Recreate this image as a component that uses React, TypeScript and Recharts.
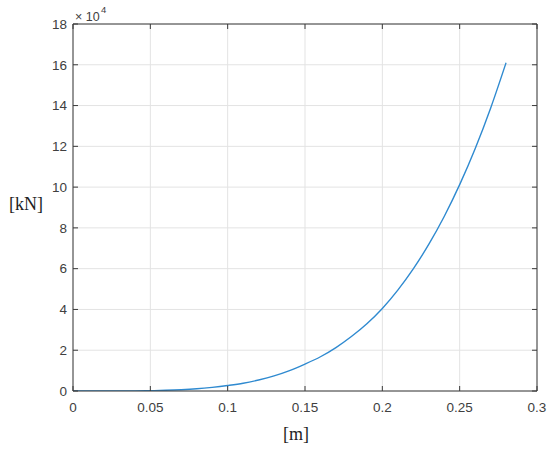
import React from "react";
import { LineChart, Line, XAxis, YAxis, CartesianGrid } from "recharts";

const displacement = [0, 0.01, 0.02, 0.03, 0.04, 0.05, 0.06, 0.07, 0.08, 0.09, 0.1, 0.11, 0.12, 0.13, 0.14, 0.15, 0.16, 0.17, 0.18, 0.19, 0.2, 0.21, 0.22, 0.23, 0.24, 0.25, 0.26, 0.27, 0.28];
const force = [0, 0.00005, 0.0004, 0.002, 0.006, 0.016, 0.034, 0.064, 0.11, 0.18, 0.27, 0.38, 0.54, 0.74, 1.0, 1.32, 1.68, 2.13, 2.67, 3.3, 4.05, 4.95, 5.99, 7.19, 8.56, 10.12, 11.88, 13.87, 16.1];
const xTicks = [0, 0.05, 0.1, 0.15, 0.2, 0.25, 0.3];
const yTicks = [0, 2, 4, 6, 8, 10, 12, 14, 16, 18];

const data = displacement.map((d, i) => ({ x: d, y: force[i] }));

const AXIS = "#3a3a3a";
const TEXT = "#404040";
const FONT = "Arial, 'Liberation Sans', Helvetica, sans-serif";
const SERIF = "'Times New Roman', 'Liberation Serif', serif";
const TICK_LEN = 5;
const FS = 13.5;
const LEFT_GAP = 6;

const BottomTick = (props: any) => {
  const { x, y, payload } = props;
  const base = y - 16;
  return (
    <g>
      <line x1={x} x2={x} y1={base} y2={base - TICK_LEN} stroke={AXIS} strokeWidth={1} />
      <text x={x} y={y} dy="0.35em" textAnchor="middle" fill={TEXT} fontSize={FS} fontFamily={FONT}>
        {String(payload.value)}
      </text>
    </g>
  );
};

const LeftTick = (props: any) => {
  const { x, y, payload } = props;
  const base = x + LEFT_GAP;
  return (
    <g>
      <line x1={base} x2={base + TICK_LEN} y1={y} y2={y} stroke={AXIS} strokeWidth={1} />
      <text x={x} y={y} dy="0.35em" textAnchor="end" fill={TEXT} fontSize={FS} fontFamily={FONT}>
        {String(payload.value)}
      </text>
    </g>
  );
};

const TopTick = (props: any) => {
  const { x, y } = props;
  return <line x1={x} x2={x} y1={y} y2={y + TICK_LEN} stroke={AXIS} strokeWidth={1} />;
};

const RightTick = (props: any) => {
  const { x, y } = props;
  return <line x1={x} x2={x - TICK_LEN} y1={y} y2={y} stroke={AXIS} strokeWidth={1} />;
};

export default function App() {
  return (
    <div style={{ position: "absolute", left: 0, top: 0, width: 550, height: 451, background: "#fff" }}>
      <LineChart width={550} height={451} data={data} margin={{ top: 23, right: 12, bottom: 0, left: 0 }}>
        <CartesianGrid xAxisId="b" yAxisId="l" stroke="#e3e3e3" strokeWidth={1} horizontal vertical />
        <XAxis
          xAxisId="b"
          dataKey="x"
          type="number"
          domain={[0, 0.3]}
          ticks={xTicks}
          height={60}
          tickSize={0}
          tickMargin={16}
          tickLine={false}
          axisLine={{ stroke: AXIS, strokeWidth: 1 }}
          tick={BottomTick}
          interval={0}
          allowDataOverflow
        />
        <XAxis
          xAxisId="t"
          orientation="top"
          dataKey="x"
          type="number"
          domain={[0, 0.3]}
          ticks={xTicks}
          height={1}
          tickSize={0}
          tickMargin={0}
          tickLine={false}
          axisLine={{ stroke: AXIS, strokeWidth: 1 }}
          tick={TopTick}
          interval={0}
          allowDataOverflow
        />
        <YAxis
          yAxisId="l"
          type="number"
          domain={[0, 18]}
          ticks={yTicks}
          width={73}
          tickSize={0}
          tickMargin={LEFT_GAP}
          tickLine={false}
          axisLine={{ stroke: AXIS, strokeWidth: 1 }}
          tick={LeftTick}
          interval={0}
          allowDataOverflow
        />
        <YAxis
          yAxisId="r"
          orientation="right"
          type="number"
          domain={[0, 18]}
          ticks={yTicks}
          width={1}
          tickSize={0}
          tickMargin={0}
          tickLine={false}
          axisLine={{ stroke: AXIS, strokeWidth: 1 }}
          tick={RightTick}
          interval={0}
          allowDataOverflow
        />
        <Line
          xAxisId="b"
          yAxisId="l"
          type="monotone"
          dataKey="y"
          stroke="#2f8ad0"
          strokeWidth={1.4}
          dot={false}
          isAnimationActive={false}
        />
        <text x={75} y={21} fontSize={12.5} fontFamily={FONT} fill={TEXT}>
          {"\u00d7 10"}
        </text>
        <text x={101} y={13} fontSize={9.5} fontFamily={FONT} fill={TEXT}>
          4
        </text>
        <text x={26} y={210} fontSize={18} fontFamily={SERIF} fill="#222" textAnchor="middle">
          [kN]
        </text>
        <text x={296} y={440} fontSize={18} fontFamily={SERIF} fill="#222" textAnchor="middle">
          [m]
        </text>
      </LineChart>
    </div>
  );
}
